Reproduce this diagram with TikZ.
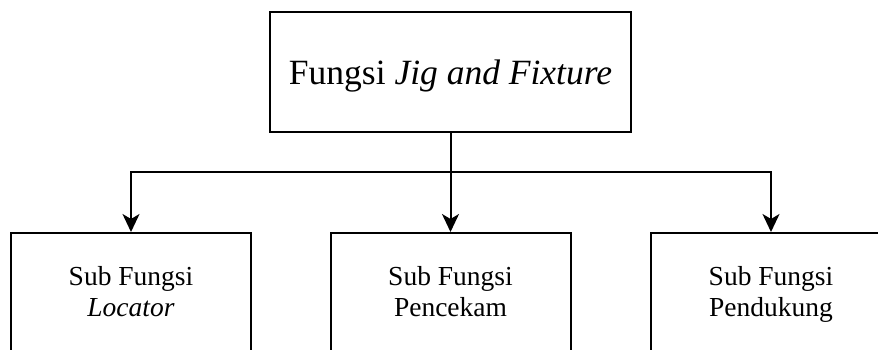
\documentclass[tikz,border=0pt]{standalone}
\usepackage{fontspec}
\setmainfont{Liberation Serif}
\usetikzlibrary{arrows.meta}
\begin{document}
\begin{tikzpicture}[x=1pt,y=1pt,
  boxstyle/.style={draw=black, line width=2pt, fill=white, inner sep=0pt},
  linkstyle/.style={draw=black, line width=2pt},
  arrowstyle/.style={linkstyle, -{Stealth[length=18pt,width=17pt,inset=5pt]}},
  subtext/.style={align=center, inner sep=0pt, anchor=base, font=\fontsize{27.5}{31}\selectfont}
]
\useasboundingbox (0,0) rectangle (878,350);
\node[boxstyle, minimum width=361pt, minimum height=120pt, text height=26pt, text depth=0pt,
      font=\fontsize{35.5}{42}\selectfont] (top) at (450.5,278) {Fungsi \textit{Jig and Fixture}};
\node[boxstyle, minimum width=240pt, minimum height=160pt, anchor=north] (b1) at (131,118) {};
\node[boxstyle, minimum width=240pt, minimum height=160pt, anchor=north] (b2) at (450.5,118) {};
\node[boxstyle, minimum width=240pt, minimum height=160pt, anchor=north] (b3) at (771,118) {};
\node[subtext] (t1) at (131,33) {Sub Fungsi\\\textit{Locator}};
\node[subtext] (t2) at (450.5,33) {Sub Fungsi\\Pencekam};
\node[subtext] (t3) at (771,33) {Sub Fungsi\\Pendukung};
\coordinate (j) at (450.5,178);
\draw[linkstyle] (top.south) -- (j);
\draw[arrowstyle] (j) -| (b1.north);
\draw[arrowstyle] (j) -| (b3.north);
\draw[arrowstyle] (j) -- (b2.north);
\end{tikzpicture}
\end{document}
